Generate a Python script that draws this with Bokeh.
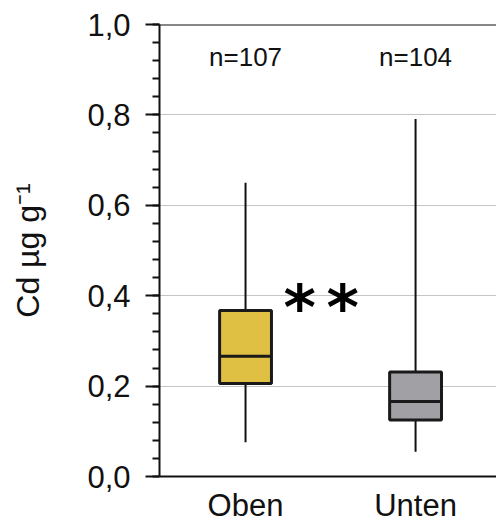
import numpy as np
from bokeh.plotting import figure
from bokeh.models import ColumnDataSource, FixedTicker, Span, Label
from bokeh.core.properties import value
from bokeh.embed import file_html
from bokeh.resources import INLINE

# ---- data ----
categories = ["Oben", "Unten"]
whisker_low = [0.076, 0.055]
q1 = [0.206, 0.125]
median = [0.266, 0.166]
q3 = [0.367, 0.231]
whisker_high = [0.650, 0.791]
n_labels = ["n=107", "n=104"]
box_colors = ["#DFC043", "#A1A1A5"]
y_ticks = [0.0, 0.2, 0.4, 0.6, 0.8, 1.0]
y_tick_labels = ["0,0", "0,2", "0,4", "0,6", "0,8", "1,0"]
significance = ["*", "*"]

FONT = "Liberation Sans"
xpos = list(range(1, len(categories) + 1))
box_w = 0.305

src = ColumnDataSource(dict(
    x=xpos, lo=whisker_low, q1=q1, med=median, q3=q3, hi=whisker_high,
    color=box_colors, n=n_labels,
    xl=[x - box_w / 2 for x in xpos], xr=[x + box_w / 2 for x in xpos],
    ny=[0.928] * len(xpos),
))

p = figure(width=496, height=525, output_backend="svg", toolbar_location=None,
           x_range=(0.494, 2.476), y_range=(0.0, 1.0),
           min_border_left=159, min_border_top=24, min_border_right=0,
           min_border_bottom=40)
p.outline_line_color = None
p.background_fill_color = "white"
p.border_fill_color = "white"

# grid
p.xgrid.grid_line_color = None
p.ygrid.ticker = FixedTicker(ticks=[0.2, 0.4, 0.6, 0.8])
p.ygrid.grid_line_color = "#8a8a8a"
p.ygrid.grid_line_dash = "1 1"
p.ygrid.grid_line_width = 1

# whiskers
p.segment(x0="x", y0="lo", x1="x", y1="q1", source=src, line_color="#111111", line_width=2)
p.segment(x0="x", y0="q3", x1="x", y1="hi", source=src, line_color="#111111", line_width=2)
# boxes
p.vbar(x="x", width=box_w, bottom="q1", top="q3", source=src, fill_color="color",
       line_color="#1a1a1a", line_width=3)
# medians
p.segment(x0="xl", y0="med", x1="xr", y1="med", source=src, line_color="#1a1a1a", line_width=3)

# n labels
p.text(x="x", y="ny", text="n", source=src, text_font=value(FONT), text_font_size="26px",
       text_align="center", text_baseline="middle", text_color="#111111")

# significance
for sx, s in zip([1.318, 1.571], significance):
    p.add_layout(Label(x=sx, y=0.375, text=s, text_font="DejaVu Sans", text_font_size="62px",
                       text_font_style="bold", text_align="center", text_baseline="middle",
                       text_color="black"))

# top line
p.add_layout(Span(location=1.0, dimension="width", line_color="#111111", line_width=2))

# y axis
ya = p.yaxis[0]
ya.ticker = FixedTicker(ticks=y_ticks, minor_ticks=[round(i * 0.04, 2) for i in range(26)])
ya.major_label_overrides = {t: l for t, l in zip(y_ticks, y_tick_labels)}
ya.axis_line_width = 2
ya.axis_line_color = "#111111"
ya.major_tick_line_width = 2
ya.minor_tick_line_width = 2
ya.major_tick_line_color = "#111111"
ya.minor_tick_line_color = "#111111"
ya.major_tick_out = 14
ya.major_tick_in = 0
ya.minor_tick_out = 7
ya.minor_tick_in = 0
ya.major_label_standoff = 15
ya.major_label_text_font = FONT
ya.major_label_text_font_size = "31px"
ya.major_label_text_color = "#111111"
ya.axis_label = "Cd µg g⁻¹"
ya.axis_label_text_font = FONT
ya.axis_label_text_font_size = "32px"
ya.axis_label_text_font_style = "normal"
ya.axis_label_text_color = "#111111"
ya.axis_label_standoff = 38

# x axis
xa = p.xaxis[0]
xa.ticker = FixedTicker(ticks=xpos)
xa.major_label_overrides = {x: c for x, c in zip(xpos, categories)}
xa.axis_line_width = 2
xa.axis_line_color = "#111111"
xa.major_tick_line_color = None
xa.minor_tick_line_color = None
xa.major_tick_out = 0
xa.major_label_standoff = 11
xa.major_label_text_font = FONT
xa.major_label_text_font_size = "31px"
xa.major_label_text_color = "#111111"

open("out.html", "w").write(file_html(p, INLINE))
